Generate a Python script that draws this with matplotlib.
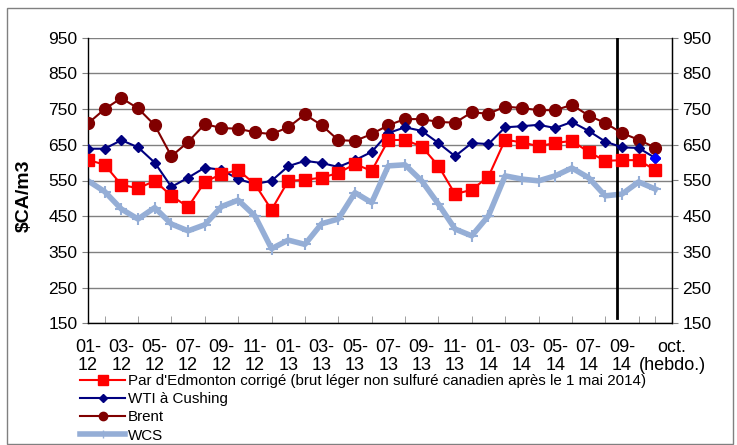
import numpy as np
import matplotlib.pyplot as plt
from matplotlib.patches import Rectangle
from matplotlib.lines import Line2D

plt.rcParams['font.family'] = ['Liberation Sans', 'DejaVu Sans']

# monthly Jan 2012 - Sep 2014, then two weekly points for October
edmonton = [608, 594, 538, 528, 549, 507, 476, 546, 568, 579, 540, 468,
            549, 552, 558, 571, 596, 577, 663, 664, 645, 591, 512, 524,
            561, 664, 657, 646, 655, 661, 630, 605, 607, 607, 579]
wti = [639, 639, 663, 643, 600, 532, 558, 586, 580, 554, 540, 549,
       590, 605, 599, 588, 607, 630, 683, 699, 689, 655, 618, 655,
       652, 699, 702, 706, 697, 714, 689, 659, 643, 641, 613]
brent = [710, 750, 781, 752, 705, 618, 658, 708, 697, 695, 685, 680,
         699, 735, 705, 663, 661, 680, 705, 722, 722, 714, 712, 741,
         737, 757, 753, 747, 747, 762, 732, 711, 683, 664, 642]
wcs = [549, 519, 470, 442, 474, 428, 409, 426, 477, 495, 451, 359,
       383, 371, 429, 442, 516, 488, 591, 594, 549, 484, 414, 395,
       451, 563, 554, 549, 563, 585, 558, 507, 512, 546, 526]

x_labels = ['01-\n12', '03-\n12', '05-\n12', '07-\n12', '09-\n12', '11-\n12',
            '01-\n13', '03-\n13', '05-\n13', '07-\n13', '09-\n13', '11-\n13',
            '01-\n14', '03-\n14', '05-\n14', '07-\n14', '09-\n14', 'oct.\n(hebdo.)']

names = ["Par d'Edmonton corrigé (brut léger non sulfuré canadien après le 1 mai 2014)",
         "WTI à Cushing", "Brent", "WCS"]

c_red = '#FF0000'
c_navy = '#000080'
c_brent = '#800000'
c_wcs = '#95AED6'

W, H = 737, 445
fig = plt.figure(figsize=(W / 100, H / 100), dpi=100)
ax = fig.add_axes([88 / W, 1 - 323.3 / H, (672 - 88) / W, (323.3 - 37.7) / H])

x = np.arange(len(brent))
ax.plot(x, wcs, color=c_wcs, lw=4, marker='+', ms=9, mew=1.5, zorder=2)
ax.plot(x, brent, color=c_brent, lw=1.5, marker='o', ms=8.5, zorder=3)
ax.plot(x, wti, color=c_navy, lw=1.5, marker='D', ms=5.5, zorder=4)
ax.plot(x[-1], wti[-1], color='#0000FF', marker='D', ms=5.5, lw=0, zorder=5)
ax.plot(x, edmonton, color=c_red, lw=1.5, marker='s', ms=9, zorder=6)

ax.set_ylim(150, 950)
ax.set_xlim(0, 35)
ax.set_yticks(np.arange(150, 951, 100))
ax.grid(axis='y', color='#808080', lw=1)
ax.set_axisbelow(True)

# category labels every two months, weekly label at the end
label_pos = list(range(0, 33, 2)) + [35]
ax.set_xticks(label_pos)
ax.set_xticklabels(x_labels, fontsize=13, linespacing=1.1)
ax.set_xticks(np.arange(0, 36), minor=True)
ax.tick_params(axis='x', which='major', length=0, pad=11)
ax.tick_params(axis='x', which='minor', direction='in', length=5, color='#909090')
ax.tick_params(axis='y', direction='out', length=4, labelsize=12.5, color='#808080')

for s in ['left', 'bottom', 'right']:
    ax.spines[s].set_color('black')
    ax.spines[s].set_linewidth(1)
ax.spines['top'].set_visible(False)

ax2 = ax.twinx()
ax2.set_ylim(150, 950)
ax2.set_yticks(np.arange(150, 951, 100))
ax2.tick_params(axis='y', direction='out', length=4, labelsize=12.5, color='#808080')
for s in ['left', 'bottom', 'top']:
    ax2.spines[s].set_visible(False)

ax.set_ylabel('$CA/m3', fontsize=14, fontweight='bold')
ax.yaxis.set_label_coords(-0.094, 0.446)

# separator between monthly and weekly data
ax.axvline(31.7, ymin=0.02, ymax=1, color='black', lw=2)

handles = [
    Line2D([], [], color=c_red, lw=1.5, marker='s', ms=7),
    Line2D([], [], color=c_navy, lw=1.5, marker='D', ms=4),
    Line2D([], [], color=c_brent, lw=1.5, marker='o', ms=6),
    Line2D([], [], color=c_wcs, lw=4, marker='+', ms=6),
]
fig.legend(handles, names, loc='upper left', bbox_to_anchor=(80 / W, 1 - 374 / H),
           frameon=False, fontsize=10.9, handlelength=3.0, handletextpad=0.15,
           labelspacing=0.28, borderpad=0, borderaxespad=0)

fig.patches.append(Rectangle((7 / W, 1 / H), 726 / W, 436 / H, transform=fig.transFigure,
                             fill=False, edgecolor='#808080', lw=1))

fig.savefig('out.png', dpi=100)
